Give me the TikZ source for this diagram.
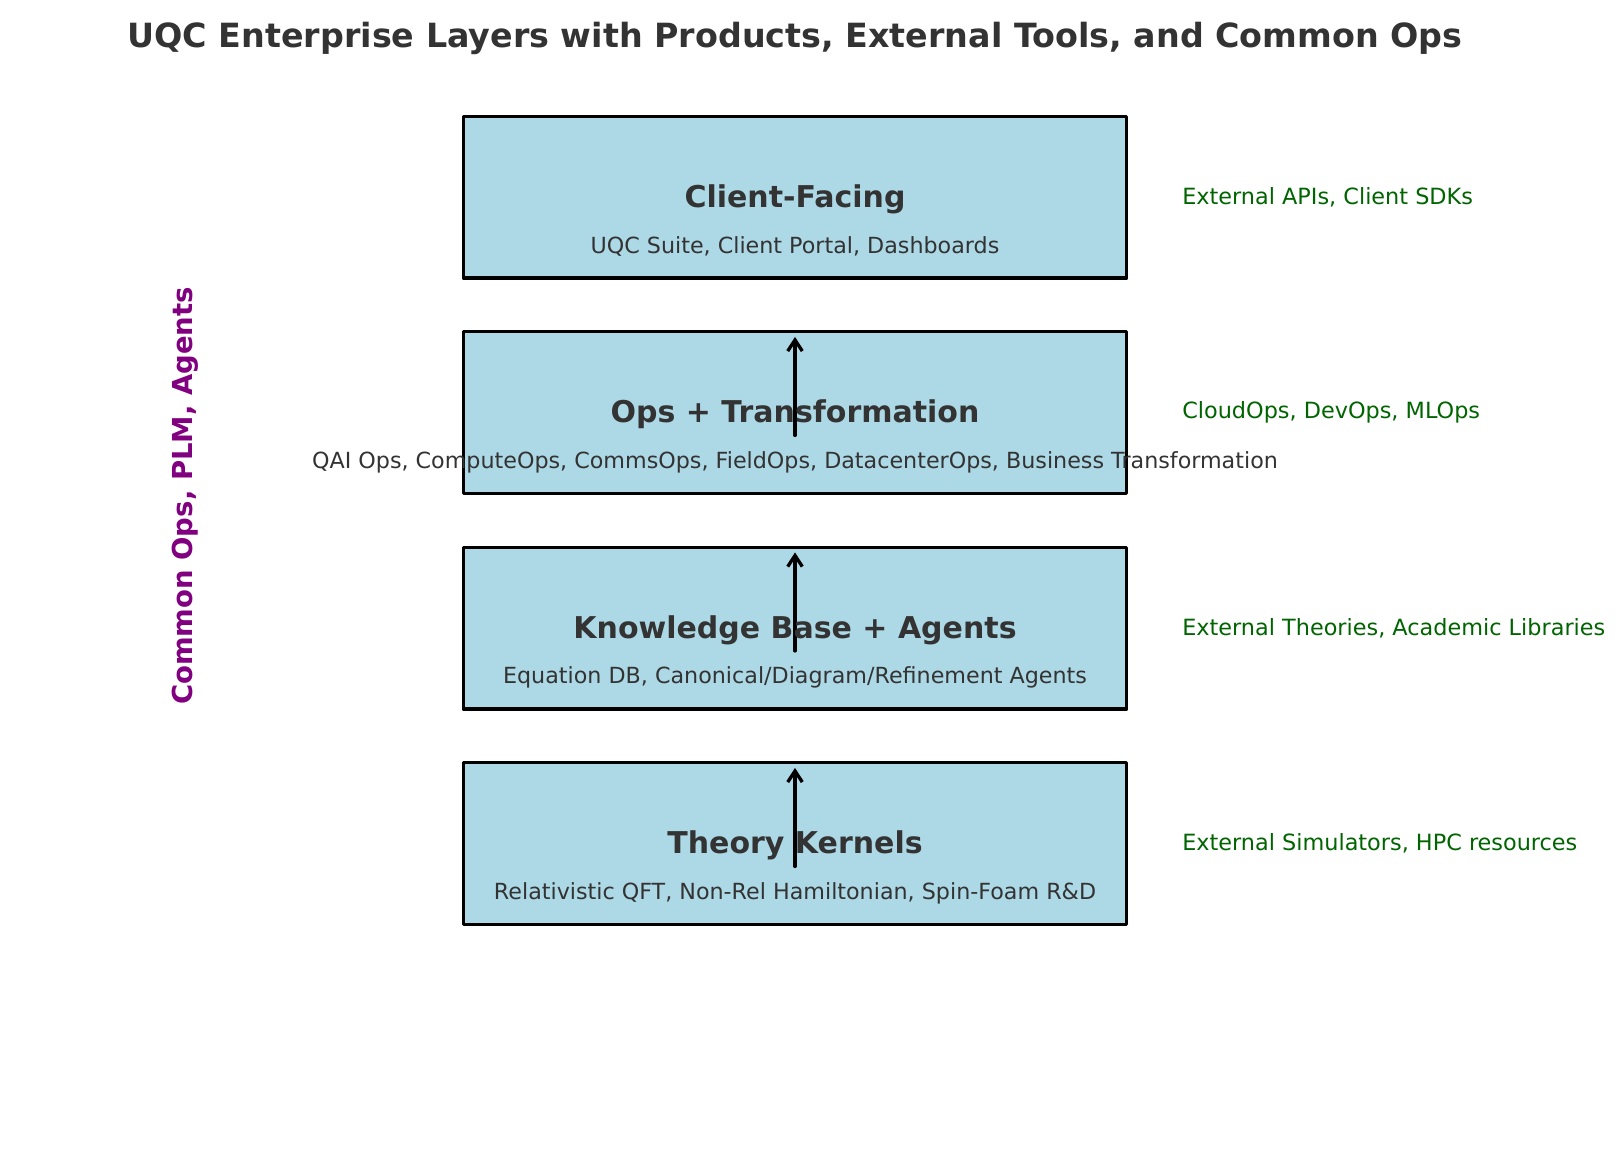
\documentclass[tikz,border=0pt]{standalone}
\usepackage{fontspec}
\setmainfont{DejaVu Sans}
\usetikzlibrary{arrows.meta,positioning}
\definecolor{layerblue}{HTML}{ADD8E6}
\definecolor{inkgray}{HTML}{333333}
\definecolor{extgreen}{HTML}{006400}
\definecolor{opspurple}{HTML}{800080}
\begin{document}
\begin{tikzpicture}[x=0.72pt,y=-0.72pt,line join=round,line cap=round,
	>={Straight Barb[length=8pt,width=10.5pt]},
	layer/.style={draw=black,fill=layerblue,line width=2.2pt,outer sep=0pt,inner sep=0pt,
		minimum width=478pt,minimum height=116.6pt},
	layername/.style={inner sep=0pt,text=inkgray,font=\fontsize{21.6}{25}\selectfont\bfseries},
	layersub/.style={inner sep=0pt,text=inkgray,font=\fontsize{16}{19}\selectfont},
	exttool/.style={anchor=west,inner sep=0pt,text=extgreen,font=\fontsize{16.1}{19}\selectfont},
	uparrow/.style={->,line width=2.4pt}]
	% Khung hình
	\useasboundingbox (0,0) rectangle (1624,1160);
	\def\cx{795} % tâm các tầng
	\def\ex{1182} % cột công cụ ngoài
	
	% Tiêu đề
	\node[inner sep=0pt,text=inkgray,font=\fontsize{24}{28}\selectfont\bfseries] (title) at (\cx,38)
		{UQC Enterprise Layers with Products, External Tools, and Common Ops};
	
	% Các tầng
	\node[layer] (client) at (\cx,197) {};
	\node[layer] (ops) at (\cx,412.5) {};
	\node[layer] (kb) at (\cx,628) {};
	\node[layer] (theory) at (\cx,843.5) {};
	
	% Mũi tên giữa các tầng
	\draw[uparrow] ([yshift=-16.5pt]ops.center) -- ([yshift=-3.9pt]ops.north);
	\draw[uparrow] ([yshift=-16.5pt]kb.center) -- ([yshift=-3.9pt]kb.north);
	\draw[uparrow] ([yshift=-16.5pt]theory.center) -- ([yshift=-3.9pt]theory.north);
	
	% Tên tầng và sản phẩm
	\node[layername] (clientname) at (\cx,199) {Client-Facing};
	\node[layersub] (clientsub) at (\cx,246.5) {UQC Suite, Client Portal, Dashboards};
	\node[layername] (opsname) at (\cx,414.5) {Ops + Transformation};
	\node[layersub] (opssub) at (\cx,462) {QAI Ops, ComputeOps, CommsOps, FieldOps, DatacenterOps, Business Transformation};
	\node[layername] (kbname) at (\cx,630) {Knowledge Base + Agents};
	\node[layersub] (kbsub) at (\cx,677.5) {Equation DB, Canonical/Diagram/Refinement Agents};
	\node[layername] (theoryname) at (\cx,845.5) {Theory Kernels};
	\node[layersub] (theorysub) at (\cx,893) {Relativistic QFT, Non-Rel Hamiltonian, Spin-Foam R\&D};
	
	% Công cụ ngoài
	\node[exttool] (clientext) at (\ex,197) {External APIs, Client SDKs};
	\node[exttool] (opsext) at (\ex,412.5) {CloudOps, DevOps, MLOps};
	\node[exttool] (kbext) at (\ex,628) {External Theories, Academic Libraries};
	\node[exttool] (theoryext) at (\ex,843.5) {External Simulators, HPC resources};
	
	% Nhãn dọc bên trái
	\node[rotate=90,inner sep=0pt,text=opspurple,font=\fontsize{19.8}{23}\selectfont\bfseries] (common) at (185,496)
		{Common Ops, PLM, Agents};
\end{tikzpicture}
\end{document}
